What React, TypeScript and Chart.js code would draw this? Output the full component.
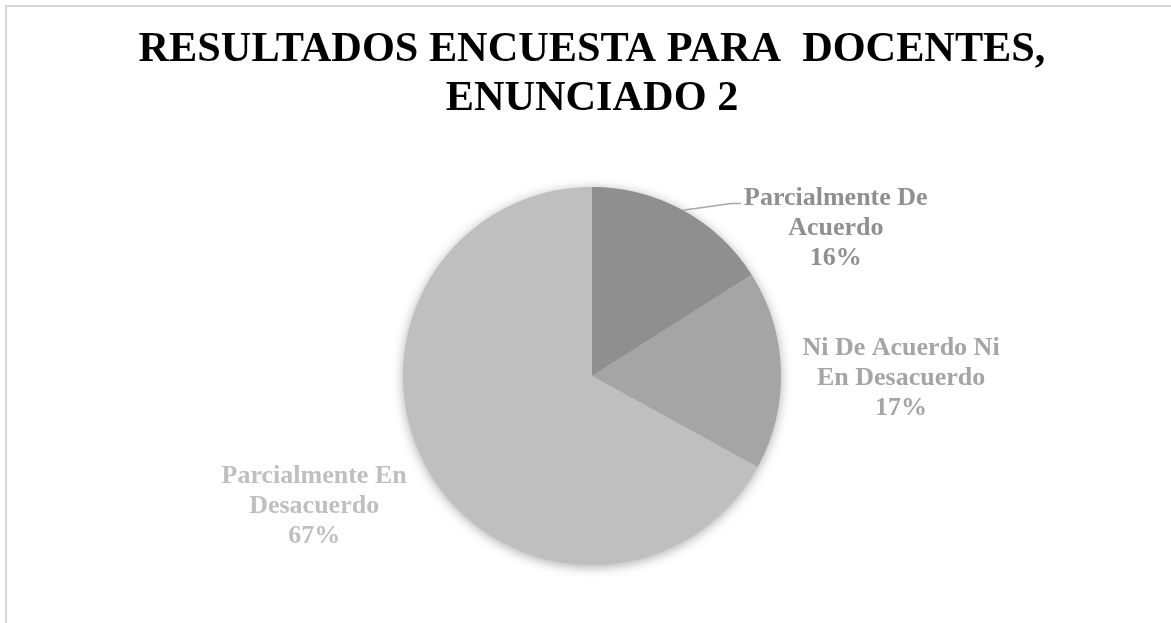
import React, { useEffect, useRef } from "react";
import { Chart, registerables } from "chart.js";

Chart.register(...registerables);

const categories = [
  "Parcialmente De Acuerdo",
  "Ni De Acuerdo Ni En Desacuerdo",
  "Parcialmente En Desacuerdo",
];
const values = [16, 17, 67];
const labelLines = [
  ["Parcialmente De", "Acuerdo"],
  ["Ni De Acuerdo Ni", "En Desacuerdo"],
  ["Parcialmente En", "Desacuerdo"],
];
const titleLines = ["RESULTADOS ENCUESTA PARA  DOCENTES,", "ENUNCIADO 2"];
const sliceColors = ["#8f8f8f", "#a5a5a5", "#bfbfbf"];

// label placement relative to the pie centre, in units of the radius
const labelAnchors = [
  [1.29, -0.78],
  [1.635, 0.01],
  [-1.47, 0.69],
];

const SERIF = '"Liberation Serif", "Times New Roman", serif';

const shadowPlugin = {
  id: "pieShadow",
  beforeDatasetsDraw(chart: any) {
    const meta = chart.getDatasetMeta(0);
    const arc = meta.data[0];
    if (!arc) return;
    const { x, y, outerRadius } = arc.getProps(["x", "y", "outerRadius"], true);
    const ctx = chart.ctx;
    ctx.save();
    ctx.shadowColor = "rgba(0,0,0,0.35)";
    ctx.shadowBlur = 12;
    ctx.shadowOffsetX = 0;
    ctx.shadowOffsetY = 2;
    ctx.fillStyle = "#bfbfbf";
    ctx.beginPath();
    ctx.arc(x, y, outerRadius - 0.5, 0, Math.PI * 2);
    ctx.fill();
    ctx.restore();
  },
};

const labelPlugin = {
  id: "pieLabels",
  afterDatasetsDraw(chart: any) {
    const meta = chart.getDatasetMeta(0);
    const ctx = chart.ctx;
    const total = values.reduce((a, b) => a + b, 0);
    const lineH = 30;
    ctx.save();
    ctx.font = `bold 26px ${SERIF}`;
    ctx.textAlign = "center";
    ctx.textBaseline = "middle";
    meta.data.forEach((arc: any, i: number) => {
      const p = arc.getProps(["x", "y", "outerRadius", "startAngle", "endAngle"], true);
      const r = p.outerRadius;
      const lx = p.x + labelAnchors[i][0] * r;
      const ly = p.y + labelAnchors[i][1] * r;
      const lines = [...labelLines[i], `${Math.round((values[i] / total) * 100)}%`];
      const top = ly - ((lines.length - 1) * lineH) / 2;
      ctx.fillStyle = sliceColors[i];
      lines.forEach((t, k) => ctx.fillText(t, lx, top + k * lineH));
      if (i === 0) {
        const mid = (p.startAngle + p.endAngle) / 2;
        const sx = p.x + Math.cos(mid) * r;
        const sy = p.y + Math.sin(mid) * r;
        const w = ctx.measureText(lines[0]).width;
        const left = lx - w / 2;
        ctx.strokeStyle = "#a6a6a6";
        ctx.lineWidth = 1.5;
        ctx.beginPath();
        ctx.moveTo(sx, sy);
        ctx.lineTo(left - 13, top + 5);
        ctx.lineTo(left - 3, top + 5);
        ctx.stroke();
      }
    });
    ctx.restore();
  },
};

export default function App() {
  const ref = useRef<HTMLCanvasElement | null>(null);

  useEffect(() => {
    if (!ref.current) return;
    const chart = new Chart(ref.current, {
      type: "pie",
      data: {
        labels: categories,
        datasets: [
          {
            data: values,
            backgroundColor: sliceColors,
            borderWidth: 0,
            hoverOffset: 0,
            offset: 0,
          },
        ],
      },
      options: {
        responsive: false,
        animation: false,
        events: [],
        layout: { padding: { left: 13, right: 0, top: 0, bottom: 58 } },
        plugins: {
          legend: { display: false },
          tooltip: { enabled: false },
          title: {
            display: true,
            text: titleLines,
            color: "#000000",
            font: { family: SERIF, size: 42.3, weight: "bold", lineHeight: 1.158 },
            padding: { top: 26, bottom: 63 },
          },
        },
      },
      plugins: [shadowPlugin, labelPlugin],
    });
    return () => chart.destroy();
  }, []);

  return (
    <div
      style={{
        position: "fixed",
        left: 0,
        top: 0,
        width: 1171,
        height: 623,
        overflow: "hidden",
        background: "#ffffff",
      }}
    >
      <div
        style={{
          position: "absolute",
          left: 5,
          top: 5,
          width: 1300,
          height: 800,
          borderLeft: "2px solid #d9d9d9",
          borderTop: "2px solid #d9d9d9",
        }}
      />
      <canvas
        ref={ref}
        width={1171}
        height={623}
        style={{ position: "absolute", left: 0, top: 0, width: 1171, height: 623 }}
      />
    </div>
  );
}
